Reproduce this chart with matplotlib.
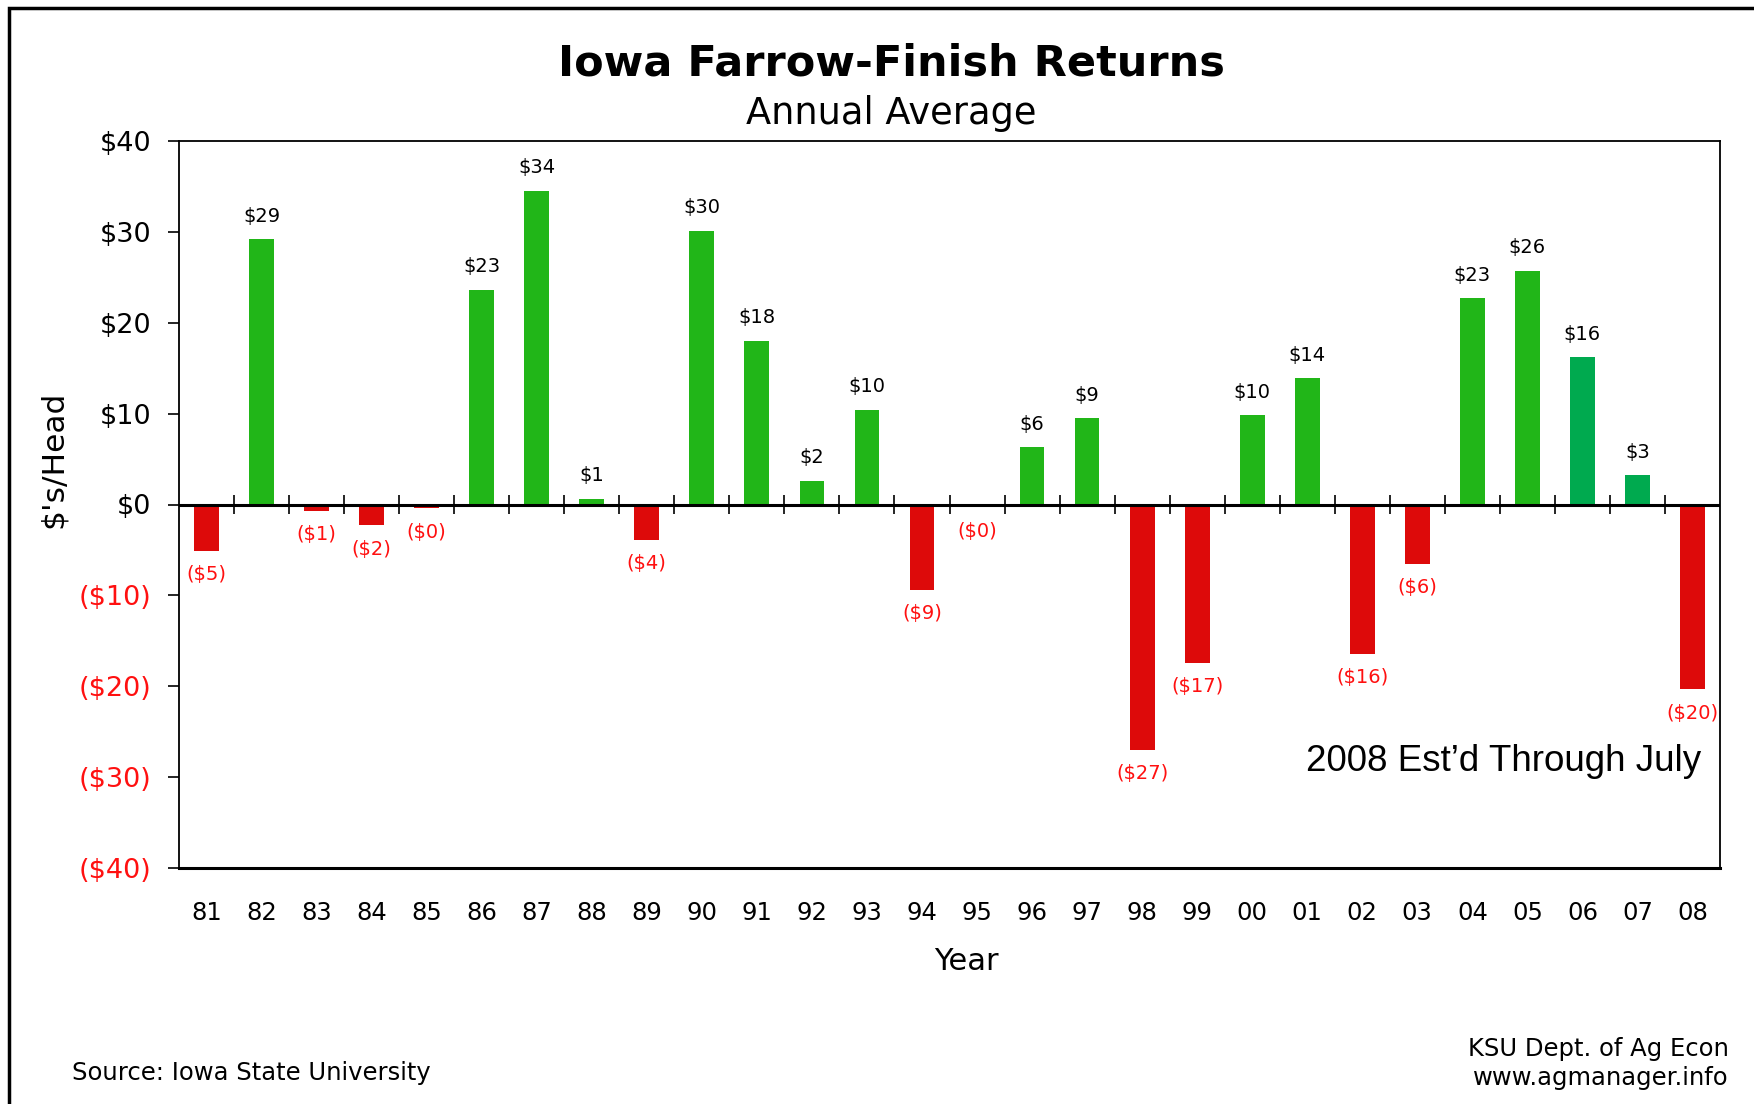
import matplotlib
matplotlib.use("Agg")
import matplotlib.pyplot as plt
import numpy as np
from matplotlib.patches import Rectangle

years = ["81","82","83","84","85","86","87","88","89","90","91","92","93","94",
         "95","96","97","98","99","00","01","02","03","04","05","06","07","08"]
returns = [-5.1, 29.2, -0.7, -2.3, -0.4, 23.6, 34.5, 0.6, -3.9, 30.1, 18.0, 2.6, 10.4, -9.4,
           -0.3, 6.3, 9.5, -27.0, -17.4, 9.8, 13.9, -16.4, -6.5, 22.7, 25.7, 16.2, 3.2, -20.3]
labels = ["($5)","$29","($1)","($2)","($0)","$23","$34","$1","($4)","$30","$18","$2","$10","($9)",
          "($0)","$6","$9","($27)","($17)","$10","$14","($16)","($6)","$23","$26","$16","$3","($20)"]
bar_colors = ["#DD0A0A","#21B618","#DD0A0A","#DD0A0A","#DD0A0A","#21B618","#21B618","#21B618",
              "#DD0A0A","#21B618","#21B618","#21B618","#21B618","#DD0A0A","#21B618","#21B618",
              "#21B618","#DD0A0A","#DD0A0A","#21B618","#21B618","#DD0A0A","#DD0A0A","#21B618",
              "#21B618","#00AA4F","#00AA4F","#DD0A0A"]
yticks = [-40, -30, -20, -10, 0, 10, 20, 30, 40]
ytick_labels = ["($40)","($30)","($20)","($10)","$0","$10","$20","$30","$40"]

plt.rcParams['font.family'] = ['DejaVu Sans']
fig = plt.figure(figsize=(17.54, 11.04), dpi=100)
ax = fig.add_axes([179/1754, 1-868/1104, (1720-179)/1754, (868-141)/1104])

x = np.arange(len(years))
ax.bar(x, returns, width=0.45, color=bar_colors, zorder=2)
ax.set_xlim(-0.5, len(years)-0.5)
ax.set_ylim(-40, 40)
ax.axhline(0, color="black", lw=2.2, zorder=3)
ax.vlines(np.arange(0.5, len(years)-1), -1.0, 1.0, color="black", lw=1.2, zorder=3)

for xi, v, lab in zip(x, returns, labels):
    if lab.startswith("("):
        ax.text(xi, v - 1.6, lab, ha="center", va="top", fontsize=14, color="#FF1010")
    else:
        ax.text(xi, v + 1.5, lab, ha="center", va="bottom", fontsize=14, color="black")

ax.set_yticks(yticks)
ax.set_yticklabels(ytick_labels, fontsize=19.5)
for t, v in zip(ax.get_yticklabels(), yticks):
    t.set_color("#FF1010" if v < 0 else "black")
ax.tick_params(axis="y", length=8, width=1.2, pad=12)
ax.set_xticks(x)
ax.set_xticklabels(years, fontsize=17.5)
ax.tick_params(axis="x", length=0, pad=24)
for s in ax.spines.values():
    s.set_color("black")
    s.set_linewidth(1.3)
ax.spines["bottom"].set_linewidth(2.2)

ax.set_xlabel("Year", fontsize=22)
ax.xaxis.set_label_coords(0.511, -0.129)
ax.xaxis.label.set_va("center")
fig.text(53/1754, 1-459/1104, "$'s/Head", rotation=90, ha="center", va="center", fontsize=22.5)

fig.text(891/1754, 1-64/1104, "Iowa Farrow-Finish Returns", ha="center", va="center",
         fontsize=31, fontweight="bold")
fig.text(891/1754, 1-114/1104, "Annual Average", ha="center", va="center", fontsize=26.5)
ax.text(0.988, 0.146, "2008 Est\u2019d Through July", transform=ax.transAxes, ha="right",
        va="center", fontsize=26.5, family="Liberation Sans")
fig.text(72/1754, 1-1073/1104, "Source: Iowa State University", ha="left", va="center", fontsize=17.5)
fig.text(1729/1754, 1-1049/1104, "KSU Dept. of Ag Econ", ha="right", va="center", fontsize=17.5)
fig.text(1729/1754, 1-1078/1104, "www.agmanager.info", ha="right", va="center", fontsize=17.5)

fig.patches.append(Rectangle((9/1754, -0.1), 1.2, 1.1 - 8/1104, transform=fig.transFigure,
                             fill=False, edgecolor="black", lw=2.5, clip_on=False))

fig.savefig("out.png", dpi=100)
